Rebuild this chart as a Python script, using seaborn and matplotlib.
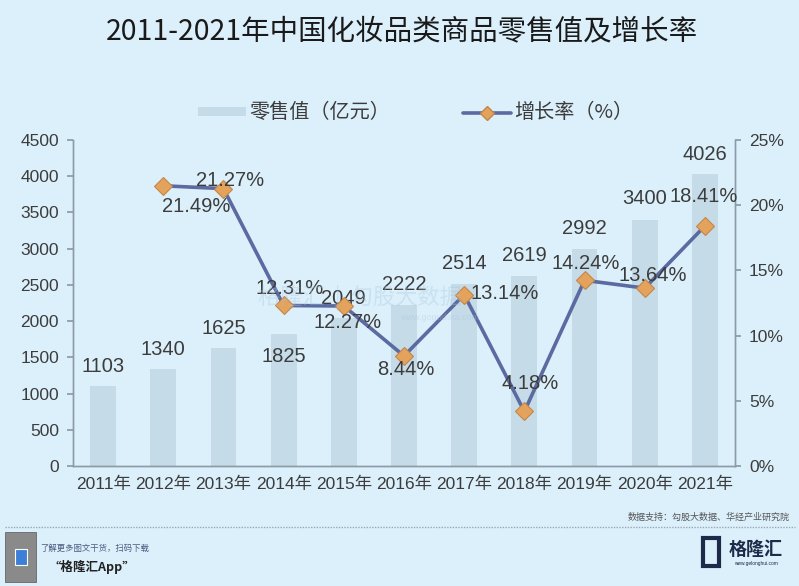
import numpy as np
import pandas as pd
import matplotlib
matplotlib.use("Agg")
import matplotlib.pyplot as plt
import seaborn as sns
from matplotlib.patches import Rectangle
from matplotlib.lines import Line2D

years = ["2011年", "2012年", "2013年", "2014年", "2015年", "2016年",
         "2017年", "2018年", "2019年", "2020年", "2021年"]
retail = [1103, 1340, 1625, 1825, 2049, 2222, 2514, 2619, 2992, 3400, 4026]
growth = [np.nan, 21.49, 21.27, 12.31, 12.27, 8.44, 13.14, 4.18, 14.24, 13.64, 18.41]
left_ticks = [0, 500, 1000, 1500, 2000, 2500, 3000, 3500, 4000, 4500]
right_ticks = [0, 5, 10, 15, 20, 25]

title = "2011-2021年中国化妆品类商品零售值及增长率"
bar_name = "零售值（亿元）"
line_name = "增长率（%）"
source = "数据支持：勾股大数据、华经产业研究院"

# label offsets (points) - layout only
bar_off = [14, 14, 14, -16, 14, 15, 15, 15, 15, 15, 14]
growth_off = [None, (24, -15), (5, 6), (4, 12), (3, -12), (1, -10),
              (29, 1), (4, 20), (1, 12), (6, 9), (-1, 21)]

BG = "#dcf0fb"
BAR = "#c5dbe7"
LINE = "#5b6aa0"
MARK = "#e3a35c"
TXT = "#3c3c3c"
AX = "#8c9ba6"

sns.set_theme(style="white")
plt.rcParams["font.family"] = ["Liberation Sans", "Noto Sans CJK SC", "DejaVu Sans"]
CJK = ["Noto Sans CJK SC", "DejaVu Sans"]

fig = plt.figure(figsize=(7.99, 5.86), dpi=100, facecolor=BG)
ax = fig.add_axes([73 / 799, 1 - 466 / 586, 662 / 799, 326 / 586])
ax.set_facecolor(BG)

df = pd.DataFrame({"year": years, "retail": retail, "growth": growth})
df["pos"] = np.arange(len(years))

sns.barplot(data=df, x="year", y="retail", ax=ax, color=BAR, width=0.43,
            saturation=1, order=years, linewidth=0, edgecolor="none")
ax.set_xlim(-0.5, len(years) - 0.5)
ax.set_ylim(0, 4500)
ax.set_yticks(left_ticks)
ax.set_xlabel("")
ax.set_ylabel("")

ax2 = ax.twinx()
sns.lineplot(data=df.dropna(), x="pos", y="growth", ax=ax2, color=LINE,
             linewidth=2.6, marker="D", markersize=9, markerfacecolor=MARK,
             markeredgecolor="#c4864a", markeredgewidth=0.8, legend=False)
ax2.set_ylim(0, 25)
ax2.set_yticks(right_ticks)
ax2.set_yticklabels([f"{t}%" for t in right_ticks])
ax2.set_xlabel("")
ax2.set_ylabel("")
ax.set_xlim(-0.5, len(years) - 0.5)

for a in (ax, ax2):
    for s in a.spines.values():
        s.set_color(AX)
        s.set_linewidth(1.0)
    a.spines["top"].set_visible(False)

ax.tick_params(axis="y", colors=AX, labelcolor=TXT, labelsize=12.5, length=4,
               direction="out", pad=6)
ax2.tick_params(axis="y", colors=AX, labelcolor=TXT, labelsize=12.5, length=4,
                direction="out", pad=6)
ax.set_xticks(np.arange(len(years)))
ax.set_xticklabels(years)
ax.set_xticks(np.arange(len(years) + 1) - 0.5, minor=True)
ax.tick_params(axis="x", which="major", length=0, labelsize=12.5,
               labelcolor=TXT, pad=8)
ax.tick_params(axis="x", which="minor", length=4, color=AX, direction="out")
for lab in ax.get_xticklabels():
    lab.set_fontfamily(["Liberation Sans", "Noto Sans CJK SC"])

# watermark (faint, behind labels)
fig.text(0.45, 1 - 298 / 586, "格隆汇  |  勾股大数据", fontsize=16, color="#a8c6dc",
         alpha=0.35, ha="center", va="center", family=CJK, zorder=0)
fig.text(0.55, 1 - 318 / 586, "www.gogudata.com", fontsize=6.5, color="#a8c6dc",
         alpha=0.4, ha="center", va="center", zorder=0)

# bar value labels
for i, v in enumerate(retail):
    ax.annotate(str(v), (i, v), xytext=(0, bar_off[i]), textcoords="offset points",
                ha="center", va="center", fontsize=14.5, color=TXT)
# growth labels
for i, g in enumerate(growth):
    if np.isnan(g):
        continue
    dx, dy = growth_off[i]
    ax2.annotate(f"{g:.2f}%", (i, g), xytext=(dx, dy), textcoords="offset points",
                 ha="center", va="center", fontsize=14.5, color=TXT, zorder=5)

# title
fig.text(0.503, 1 - 31 / 586, title, fontsize=20.5, color="#1a1a1a",
         ha="center", va="center", family=CJK)

# legend
h_bar = Rectangle((0, 0), 1, 1, facecolor=BAR, edgecolor="none")
h_line = Line2D([0], [0], color=LINE, linewidth=2.6, marker="D", markersize=7,
                markerfacecolor=MARK, markeredgecolor="#c4864a")
leg = fig.legend([h_bar, h_line], [bar_name, line_name], loc="center",
                 bbox_to_anchor=(0.52, 1 - 113 / 586), ncol=2, frameon=False,
                 handlelength=2.4, handleheight=0.3, columnspacing=3.6,
                 handletextpad=0.15, prop={"family": CJK, "size": 14.5})
for t in leg.get_texts():
    t.set_color(TXT)

# footer
fig.text(790 / 799, 1 - 517 / 586, source, fontsize=6.5, color="#555555",
         ha="right", va="center", family=CJK)
fig.add_artist(Line2D([5 / 799, 795 / 799], [1 - 527 / 586, 1 - 527 / 586],
                      color="#9aa7b0", linewidth=1.0, linestyle=(0, (1, 1)),
                      transform=fig.transFigure))
fig.add_artist(Rectangle((5 / 799, 1 - 582 / 586), 31 / 799, 50 / 586,
                         facecolor="#8a8a8a", edgecolor="#555555", linewidth=0.5,
                         transform=fig.transFigure))
fig.add_artist(Rectangle((15 / 799, 1 - 565 / 586), 12 / 799, 16 / 586,
                         facecolor="#3d7fd6", edgecolor="white", linewidth=0.8,
                         transform=fig.transFigure))
fig.text(40 / 799, 1 - 548 / 586, "了解更多图文干货，扫码下载", fontsize=6,
         color="#4a5a80", style="italic", ha="left", va="center", family=CJK)
fig.text(48 / 799, 1 - 567 / 586, "“格隆汇App”", fontsize=9, color="#222222",
         style="italic", weight="bold", ha="left", va="center", family=CJK)
fig.add_artist(Rectangle((703 / 799, 1 - 566 / 586), 16 / 799, 28 / 586,
                         facecolor="none", edgecolor="#1d2a48", linewidth=3,
                         transform=fig.transFigure))
fig.text(756 / 799, 1 - 549 / 586, "格隆汇", fontsize=13, color="#1d2a48",
         weight="bold", ha="center", va="center", family=CJK)
fig.text(756 / 799, 1 - 563 / 586, "www.gelonghui.com", fontsize=3.5,
         color="#1d2a48", ha="center", va="center")

fig.savefig("out.png", dpi=100, facecolor=BG)
